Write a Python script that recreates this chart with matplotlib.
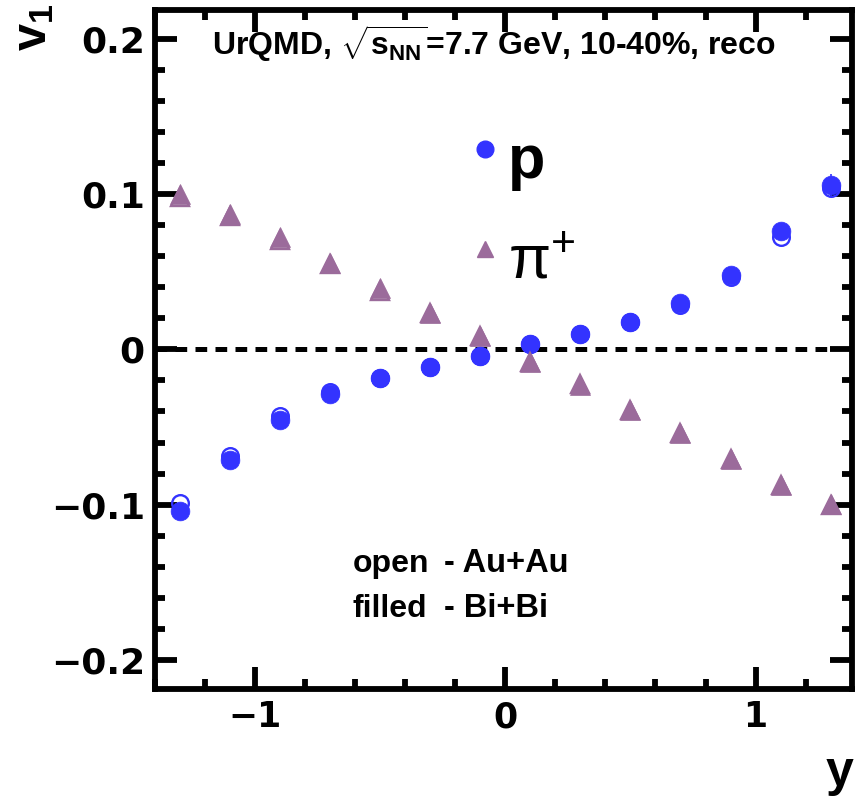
import matplotlib
matplotlib.use("Agg")
import matplotlib.pyplot as plt
from matplotlib.lines import Line2D
from matplotlib.ticker import MultipleLocator, FixedLocator

# rapidity bins
rap = [-1.3, -1.1, -0.9, -0.7, -0.5, -0.3, -0.1, 0.1, 0.3, 0.5, 0.7, 0.9, 1.1, 1.3]

# proton v1: filled = Bi+Bi, open = Au+Au
p_bibi = [-0.1040, -0.0710, -0.0452, -0.0290, -0.0183, -0.0114, -0.0045,
          0.0037, 0.0100, 0.0180, 0.0300, 0.0479, 0.0763, 0.1060]
p_auau = [-0.0988, -0.0684, -0.0432, -0.0272, -0.0183, -0.0112, -0.0043,
          0.0037, 0.0098, 0.0177, 0.0285, 0.0465, 0.0725, 0.1040]
p_err = [0.004, 0.003, 0.002, 0.002, 0.002, 0.002, 0.002,
         0.002, 0.002, 0.002, 0.002, 0.003, 0.004, 0.007]

# pi+ v1
pi_bibi = [0.1005, 0.0875, 0.0725, 0.0555, 0.0395, 0.0237, 0.0086,
           -0.0082, -0.0227, -0.0389, -0.0540, -0.0708, -0.0874, -0.0995]
pi_auau = [0.0985, 0.0858, 0.0708, 0.0553, 0.0380, 0.0235, 0.0085,
           -0.0080, -0.0225, -0.0388, -0.0538, -0.0705, -0.0872, -0.1005]

blue = '#3333ff'
purple = '#9b6b9b'

plt.rcParams['mathtext.fontset'] = 'custom'
plt.rcParams['mathtext.rm'] = 'Liberation Sans'
plt.rcParams['mathtext.it'] = 'Liberation Sans'
plt.rcParams['mathtext.bf'] = 'Liberation Sans:bold'

fig = plt.figure(figsize=(8.57, 7.97), dpi=100)
ax = fig.add_axes([0.1803, 0.1355, 0.8139, 0.852])

# zero line
ax.hlines(0, -1.4, 1.3, colors='black', lw=3.6, linestyles=(0, (2.34, 1.66)), zorder=1)

# Bi+Bi (filled)
ax.errorbar(rap, p_bibi, yerr=p_err, fmt='o', ms=13.5, mfc=blue, mec=blue, mew=0.5,
            ecolor=blue, elinewidth=1.2, capsize=0, zorder=2)
ax.plot(rap, pi_bibi, ls='none', marker='^', ms=14, mfc=purple, mec=purple, mew=0.5, zorder=2)
# Au+Au (open)
ax.plot(rap, p_auau, ls='none', marker='o', ms=12, mfc='none', mec=blue, mew=1.7, zorder=3)
ax.plot(rap, pi_auau, ls='none', marker='^', ms=13, mfc='none', mec=purple, mew=1.7, zorder=3)

ax.set_xlim(-1.4, 1.385)
ax.set_ylim(-0.219, 0.219)

for s in ax.spines.values():
    s.set_linewidth(4.2)

ax.xaxis.set_major_locator(FixedLocator([-1, 0, 1]))
ax.xaxis.set_minor_locator(MultipleLocator(0.2))
ax.yaxis.set_major_locator(FixedLocator([-0.2, -0.1, 0, 0.1, 0.2]))
ax.yaxis.set_minor_locator(MultipleLocator(0.02))
ax.tick_params(which='both', direction='in', top=True, right=True, width=4.2, color='black')
ax.tick_params(which='major', length=16)
ax.tick_params(which='minor', length=7.5)
ax.tick_params(axis='y', pad=7)
ax.tick_params(axis='x', pad=8)

ax.set_xticklabels(['\u22121', '0', '1'], fontfamily='DejaVu Sans', fontweight='bold', fontsize=25)
ax.set_yticklabels(['\u22120.2', '\u22120.1', '0', '0.1', '0.2'], fontfamily='DejaVu Sans',
                   fontweight='bold', fontsize=26)

# axis titles
fig.text(8 / 857, 1 - 4 / 797, r'$\mathbf{v}_{\mathbf{1}}$', rotation=90, ha='left', va='top',
         fontsize=35)
fig.text(853 / 857, 1 / 797, 'y', ha='right', va='bottom', fontfamily='Liberation Sans',
         fontweight='bold', fontsize=36)

ax.text(0.082, 0.934, r'UrQMD, $\sqrt{\mathbf{s}_{\mathbf{NN}}}$=7.7 GeV, 10-40%, reco',
        transform=ax.transAxes, ha='left', va='baseline', fontfamily='Liberation Sans',
        fontweight='bold', fontsize=23)

handles = [Line2D([], [], ls='none', marker='o', ms=12, mfc=blue, mec=blue),
           Line2D([], [], ls='none', marker='^', ms=11.5, mfc=purple, mec=purple)]
leg = ax.legend(handles, ['p', r'$\mathrm{\pi}^{+}$'], loc='upper left',
                bbox_to_anchor=(0.452, 0.837), frameon=False, handlelength=0.5,
                handleheight=1.5, handletextpad=0.12, labelspacing=0.41, borderpad=0,
                borderaxespad=0, prop={'family': 'Liberation Sans', 'size': 44})
leg.get_texts()[0].set_fontweight('bold')

ax.text(0.284, 0.172, 'open', transform=ax.transAxes, fontfamily='Liberation Sans',
        fontweight='bold', fontsize=23, va='baseline')
ax.text(0.415, 0.172, '- Au+Au', transform=ax.transAxes, fontfamily='Liberation Sans',
        fontweight='bold', fontsize=23.5, va='baseline')
ax.text(0.284, 0.106, 'filled', transform=ax.transAxes, fontfamily='Liberation Sans',
        fontweight='bold', fontsize=23, va='baseline')
ax.text(0.415, 0.106, '- Bi+Bi', transform=ax.transAxes, fontfamily='Liberation Sans',
        fontweight='bold', fontsize=23.5, va='baseline')

fig.savefig('out.png', dpi=100)
